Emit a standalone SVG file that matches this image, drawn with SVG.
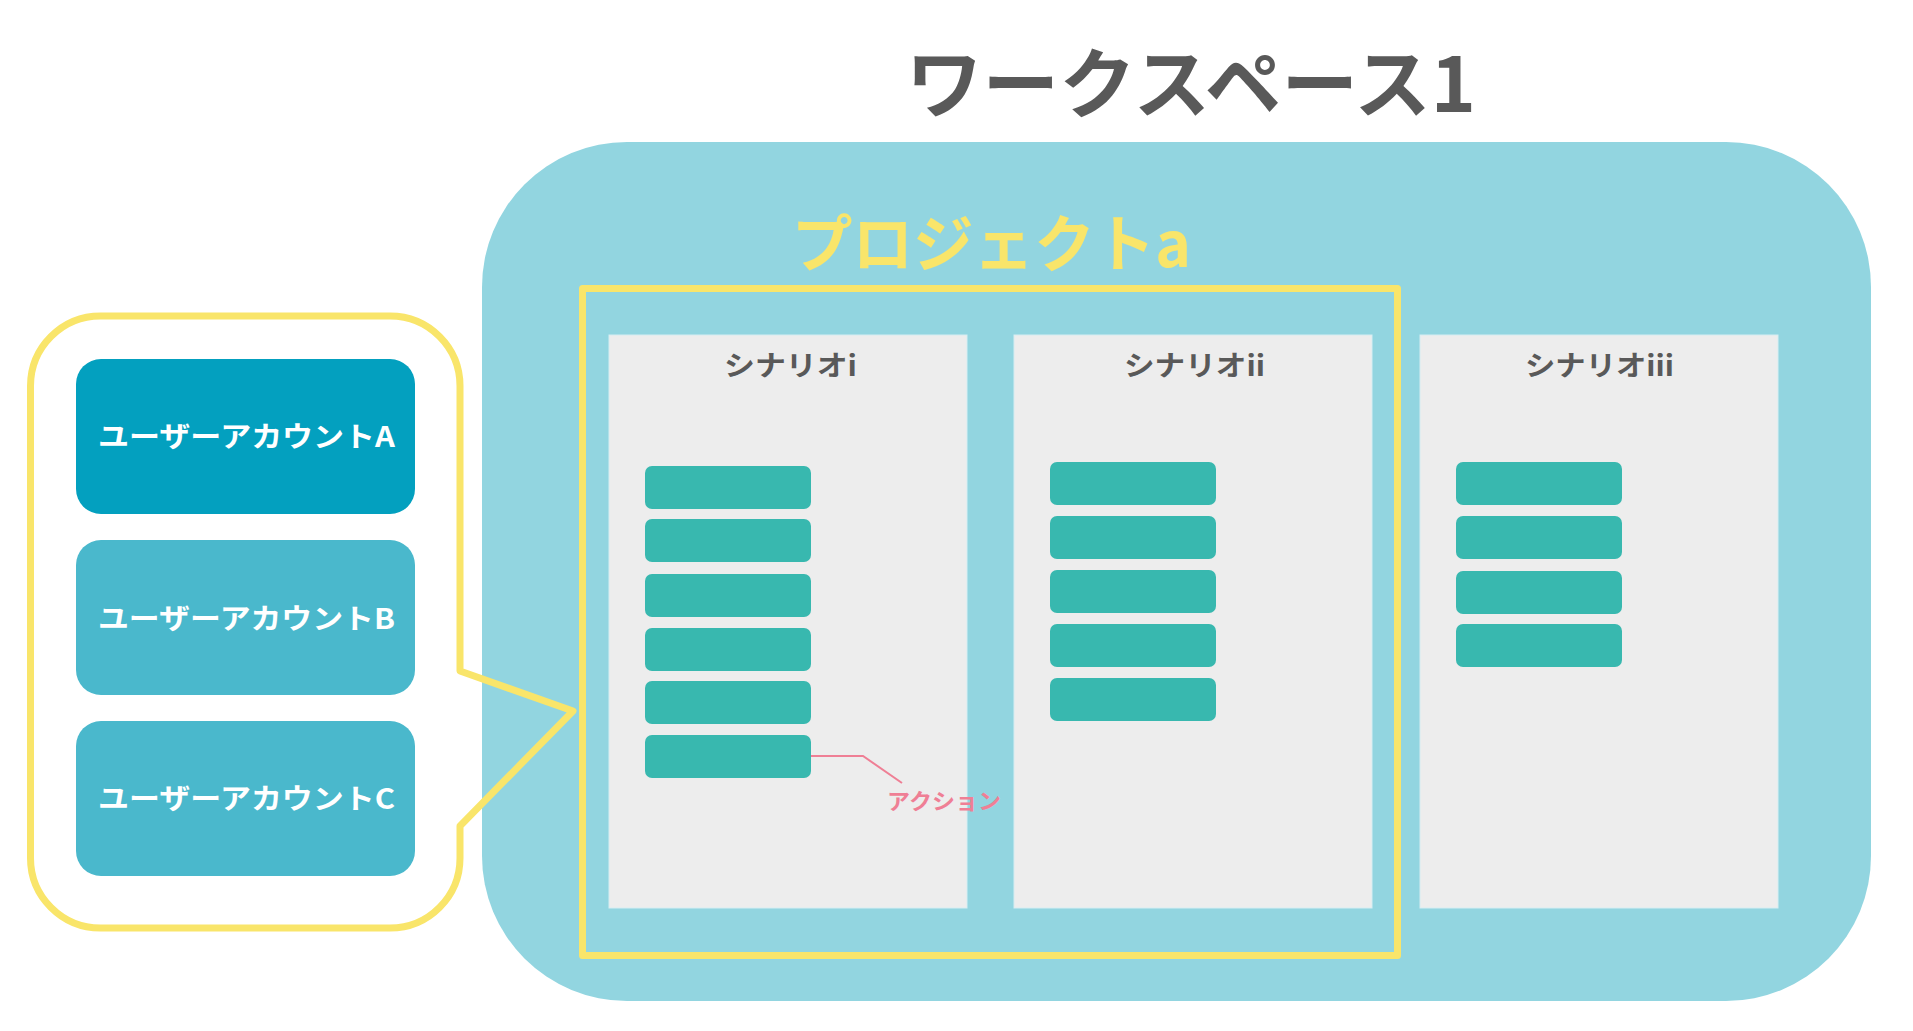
<svg xmlns="http://www.w3.org/2000/svg" width="1913" height="1031" viewBox="0 0 1913 1031">
<style>
.jp{font-family:"Noto Sans CJK JP","Noto Sans",sans-serif;font-weight:bold}
.scen{fill:#EDEDED;stroke:#D6EEF2;stroke-width:1}
.act{fill:#38B8AF}
.stitle{fill:#595959;font-size:28px}
.acct{font-size:28px;fill:#FFFFFF}
.yel{fill:none;stroke:#F9E56A;stroke-width:7;stroke-linejoin:round}
</style>
<rect width="1913" height="1031" fill="#FFFFFF"/>
<g id="workspace">
<rect x="482" y="142" width="1389" height="859" rx="145" ry="145" fill="#92D5E0"/>
<text class="jp" x="906" y="112" font-size="76" fill="#595959" textLength="570" lengthAdjust="spacingAndGlyphs">ワークスペース1</text>
</g>
<g id="project">
<rect class="yel" x="582.5" y="288.5" width="815" height="667"/>
<text class="jp" x="792" y="267" font-size="62" fill="#F9E56A" textLength="399" lengthAdjust="spacingAndGlyphs">プロジェクトa</text>
</g>
<g id="scenario-i">
<rect class="scen" x="609" y="335" width="358" height="573"/>
<text class="jp stitle" x="724" y="376" textLength="133" lengthAdjust="spacingAndGlyphs">シナリオi</text>
<rect class="act" x="645" y="466" width="166" height="43" rx="7"/>
<rect class="act" x="645" y="519" width="166" height="43" rx="7"/>
<rect class="act" x="645" y="574" width="166" height="43" rx="7"/>
<rect class="act" x="645" y="628" width="166" height="43" rx="7"/>
<rect class="act" x="645" y="681" width="166" height="43" rx="7"/>
<rect class="act" x="645" y="735" width="166" height="43" rx="7"/>
</g>
<g id="scenario-ii">
<rect class="scen" x="1014" y="335" width="358" height="573"/>
<text class="jp stitle" x="1124" y="376" textLength="141" lengthAdjust="spacingAndGlyphs">シナリオii</text>
<rect class="act" x="1050" y="462" width="166" height="43" rx="7"/>
<rect class="act" x="1050" y="516" width="166" height="43" rx="7"/>
<rect class="act" x="1050" y="570" width="166" height="43" rx="7"/>
<rect class="act" x="1050" y="624" width="166" height="43" rx="7"/>
<rect class="act" x="1050" y="678" width="166" height="43" rx="7"/>
</g>
<g id="scenario-iii">
<rect class="scen" x="1420" y="335" width="358" height="573"/>
<text class="jp stitle" x="1525" y="376" textLength="149" lengthAdjust="spacingAndGlyphs">シナリオiii</text>
<rect class="act" x="1456" y="462" width="166" height="43" rx="7"/>
<rect class="act" x="1456" y="516" width="166" height="43" rx="7"/>
<rect class="act" x="1456" y="571" width="166" height="43" rx="7"/>
<rect class="act" x="1456" y="624" width="166" height="43" rx="7"/>
</g>
<g id="accounts">
<path class="yel" d="M100.5,316 H390 A70,70 0 0 1 460,386 V671 L573,711 L460,826 V858 A70,70 0 0 1 390,928 H100.5 A70,70 0 0 1 30.5,858 V386 A70,70 0 0 1 100.5,316 Z"/>
<g id="account-a">
<rect x="76" y="359" width="339" height="155" rx="25" fill="#03A0BF"/>
<text class="jp acct" x="98" y="447" textLength="297" lengthAdjust="spacingAndGlyphs">ユーザーアカウントA</text>
</g>
<g id="account-b">
<rect x="76" y="540" width="339" height="155" rx="25" fill="#4AB8CC"/>
<text class="jp acct" x="98" y="629" textLength="297" lengthAdjust="spacingAndGlyphs">ユーザーアカウントB</text>
</g>
<g id="account-c">
<rect x="76" y="721" width="339" height="155" rx="25" fill="#4AB8CC"/>
<text class="jp acct" x="98" y="809" textLength="297" lengthAdjust="spacingAndGlyphs">ユーザーアカウントC</text>
</g>
</g>
<g id="connectors">
<polyline points="811,756 863,756 902,783" fill="none" stroke="#EF7F95" stroke-width="2"/>
</g>
<g id="action-label">
<text class="jp" x="887" y="809" font-size="22" fill="#EF7F95" textLength="114" lengthAdjust="spacingAndGlyphs">アクション</text>
</g>
</svg>
